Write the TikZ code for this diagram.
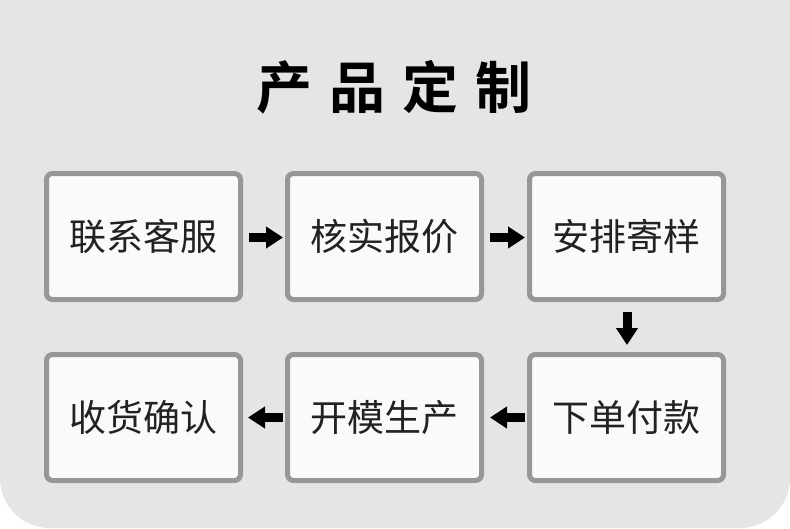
\documentclass[tikz,border=0pt]{standalone}
\usepackage{fontspec}
\newfontfamily\cjk{Noto Sans CJK SC}
\newfontfamily\cjkbold{Noto Sans CJK SC Bold}
\usetikzlibrary{arrows.meta}
\definecolor{bggray}{HTML}{E5E5E5}
\definecolor{boxfill}{HTML}{FAFAFA}
\definecolor{boxline}{HTML}{979797}
\definecolor{txt}{HTML}{222222}
\tikzset{
  stepbox/.style={draw=boxline, fill=boxfill, line width=5pt, rounded corners=6pt,
    minimum width=194pt, minimum height=126pt, inner sep=0pt, outer sep=0pt,
    text=txt, font=\cjk\fontsize{37}{40}\selectfont},
  flowarrow/.style={line width=9pt, black, -{Triangle[length=17pt,width=21pt]}},
  title/.style={font=\cjkbold\fontsize{56}{60}\selectfont, text=black, inner sep=0pt}
}
\begin{document}
\begin{tikzpicture}[x=1pt,y=-1pt]
\useasboundingbox (0,0) rectangle (790,528);
\fill[white] (0,0) rectangle (790,528);
\fill[bggray, rounded corners=50pt] (0,-80) rectangle (790,528);
\fill[bggray] (0,0) rectangle (790,100);

\node[title] (t) at (394,87) {产\hspace{17pt}品\hspace{17pt}定\hspace{17pt}制};

\node[stepbox] (b1) at (143.5,236.5) {联系客服};
\node[stepbox] (b2) at (384.5,236.5) {核实报价};
\node[stepbox] (b3) at (626.5,236.5) {安排寄样};
\node[stepbox] (b4) at (626.5,417.5) {下单付款};
\node[stepbox] (b5) at (384.5,417.5) {开模生产};
\node[stepbox] (b6) at (143.5,417.5) {收货确认};

\draw[flowarrow] ([xshift=8.5pt,yshift=-1pt]b1.east) -- ([xshift=-4.5pt,yshift=-1pt]b2.west);
\draw[flowarrow] ([xshift=8.5pt,yshift=-1pt]b2.east) -- ([xshift=-4.5pt,yshift=-1pt]b3.west);
\draw[flowarrow] ([yshift=-12.5pt,xshift=0.5pt]b3.south) -- ([yshift=9.5pt,xshift=0.5pt]b4.north);
\draw[flowarrow] ([xshift=-4.5pt]b4.west) -- ([xshift=8.5pt]b5.east);
\draw[flowarrow] ([xshift=-4.5pt]b5.west) -- ([xshift=7.5pt]b6.east);
\end{tikzpicture}
\end{document}
